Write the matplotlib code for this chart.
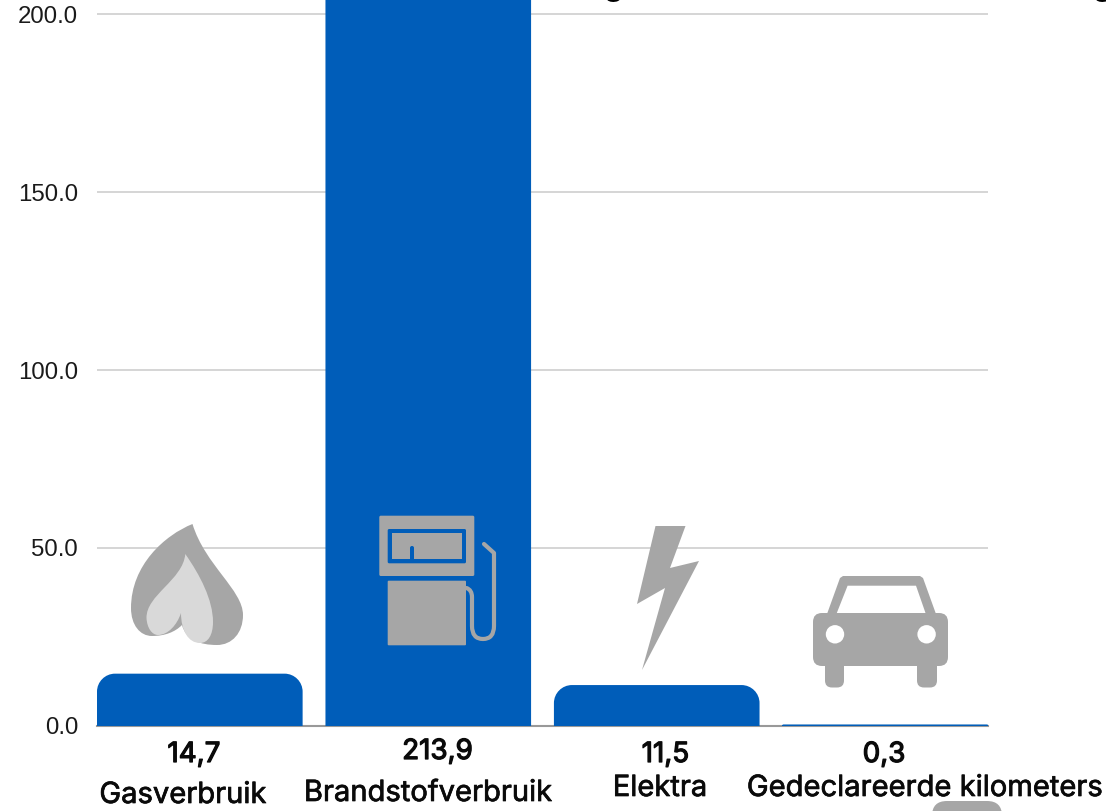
import matplotlib
matplotlib.use("Agg")
import matplotlib.pyplot as plt
import matplotlib.patheffects as pe
from matplotlib.path import Path
from matplotlib.patches import PathPatch, Polygon, Circle, FancyBboxPatch, Rectangle

categories = ["Gasverbruik", "Brandstofverbruik", "Elektra", "Gedeclareerde kilometers"]
values = [14.7, 213.9, 11.5, 0.3]
value_labels = ["14,7", "213,9", "11,5", "0,3"]
y_ticks = [0, 50, 100, 150, 200]

value_xy = [(194, 762), (437.5, 759), (665.5, 762), (884, 762)]
cat_xy = [(183, 803), (428, 801), (660, 796), (925, 796)]

W, H = 1106, 811
BLUE = "#005DB9"
GREY = "#A6A6A6"
LIGHT = "#D9D9D9"
FONT = "Inter"

fig = plt.figure(figsize=(W / 100, H / 100), dpi=100, facecolor="white")

# main axes
L, R, Y0 = 97, 988, 726
PX_PER_UNIT = 3.56
ax = fig.add_axes([L / W, 1 - Y0 / H, (R - L) / W, Y0 / H])
ax.set_xlim(-0.45, 3.45)
ax.set_ylim(0, Y0 / PX_PER_UNIT)
for s in ax.spines.values():
    s.set_visible(False)
ax.set_xticks([])
ax.set_yticks(y_ticks)
ax.set_yticklabels([f"{t:.1f}" for t in y_ticks], family="Liberation Sans", fontsize=17.3, color="#1a1a1a")
ax.tick_params(axis="y", length=0, pad=13.5)
ax.grid(axis="y", color="#D2D2D2", lw=1.3, zorder=0)
ax.set_axisbelow(True)
ax.axhline(0, color="#999999", lw=1.5, zorder=1, clip_on=False)

px_x = 3.9 / (R - L)
RAD = 18
K = 0.45
bw = 0.9
for i, v in enumerate(values):
    ry = min(RAD / PX_PER_UNIT, v)
    rx = ry * PX_PER_UNIT * px_x
    x0, x1 = i - bw / 2, i + bw / 2
    verts = [(x0, 0), (x0, v - ry), (x0, v - ry * K), (x0 + rx * K, v), (x0 + rx, v), (x1 - rx, v),
             (x1 - rx * K, v), (x1, v - ry * K), (x1, v - ry), (x1, 0), (x0, 0)]
    codes = [Path.MOVETO, Path.LINETO, Path.CURVE4, Path.CURVE4, Path.CURVE4, Path.LINETO,
             Path.CURVE4, Path.CURVE4, Path.CURVE4, Path.LINETO, Path.CLOSEPOLY]
    ax.add_patch(PathPatch(Path(verts, codes), fc=BLUE, ec=BLUE if v < 1 else "none", lw=0.6, zorder=2))

# overlay in pixel coordinates for pictograms and labels
ov = fig.add_axes([0, 0, 1, 1], facecolor="none")
ov.set_xlim(0, W)
ov.set_ylim(H, 0)
ov.axis("off")


def curve(start, segs, **kw):
    verts, codes = [start], [Path.MOVETO]
    for s in segs:
        verts += s
        codes += [Path.CURVE4] * 3
    verts.append(start)
    codes.append(Path.CLOSEPOLY)
    ov.add_patch(PathPatch(Path(verts, codes), ec="none", **kw))


def rrect(x0, y0, x1, y1, r, color, z=5):
    ov.add_patch(FancyBboxPatch((x0 + r, y0 + r), x1 - x0 - 2 * r, y1 - y0 - 2 * r,
                                boxstyle=f"round,pad={r},rounding_size={r}", fc=color, ec="none", zorder=z))


# flame
curve((192.5, 524), [
    [(165, 535), (131, 565), (131, 608)],
    [(131, 625), (140, 636), (152, 636)],
    [(165, 636), (175, 632), (182, 625)],
    [(186, 640), (200, 645), (217, 645)],
    [(232, 645), (243, 633), (243, 615)],
    [(243, 590), (205, 565), (192.5, 524)],
], fc=GREY, zorder=5)
curve((185.3, 554), [
    [(183, 580), (146, 595), (146.5, 618)],
    [(147, 628), (152, 635), (158, 635)],
    [(168, 635), (177, 625), (181, 613)],
    [(181, 630), (188, 643), (200, 643)],
    [(208, 643), (213, 635), (213, 622)],
    [(213, 600), (200, 575), (185.3, 554)],
], fc=LIGHT, zorder=6)

# fuel pump
rrect(379.3, 515.7, 474.3, 576, 1.5, GREY)
rrect(387.7, 529, 466, 563.3, 1.5, BLUE, 6)
ov.add_patch(Rectangle((392, 533), 69.7, 26, fc=GREY, ec="none", zorder=7))
rrect(410, 546, 414, 562, 1.9, BLUE, 8)
rrect(387.7, 580.7, 466, 645.3, 1, GREY)
hose_v = [(466.5, 588), (472, 590), (472, 597), (472, 626), (472, 639), (483, 639),
          (494, 639), (494, 626), (494, 553), (484, 544)]
hose_c = [Path.MOVETO, Path.CURVE3, Path.CURVE3, Path.LINETO, Path.CURVE3, Path.CURVE3,
          Path.CURVE3, Path.CURVE3, Path.LINETO, Path.LINETO]
ov.add_patch(PathPatch(Path(hose_v, hose_c), fc="none", ec=GREY, lw=3.0, capstyle="round", joinstyle="round", zorder=5))

# lightning bolt
ov.add_patch(Polygon([(655.5, 526), (685.5, 526), (670, 568), (699, 561), (642, 670), (665, 588), (637, 604)],
                     closed=True, fc=GREY, ec="none", zorder=5))

# car
rrect(813, 613, 948, 666, 9, GREY)
ov.add_patch(Polygon([(827, 614), (840, 578), (843, 576), (920, 576), (923, 578), (936, 614)],
                     closed=True, fc=GREY, ec="none", zorder=5))
ov.add_patch(Polygon([(836.8, 613), (847.6, 585.7), (916, 585.7), (925.5, 613)],
                     closed=True, fc="white", ec="none", zorder=6))
rrect(825, 650, 844, 687.5, 7, GREY)
rrect(917, 650, 937, 687.5, 7, GREY)
ov.add_patch(Circle((835, 634.3), 9.2, fc="white", ec="none", zorder=6))
ov.add_patch(Circle((926.6, 634.3), 9.2, fc="white", ec="none", zorder=6))

# cut-off pictogram at the bottom edge
rrect(932, 801, 1002, 840, 15, GREY)

# labels
for (x, y), t in zip(value_xy, value_labels):
    ov.text(x, y, t, family=FONT, fontsize=20, ha="center", va="baseline", color="#0a0a0a", zorder=9,
            path_effects=[pe.withStroke(linewidth=0.9, foreground="#0a0a0a")])
for (x, y), t in zip(cat_xy, categories):
    ov.text(x, y, t, family=FONT, fontsize=21, ha="center", va="baseline", color="#0a0a0a", zorder=9,
            path_effects=[pe.withStroke(linewidth=0.5, foreground="#0a0a0a")])

# descenders of a title cut off by the top edge
for x in (613, 1102):
    ov.text(x, -4, "g", family=FONT, fontsize=22, fontweight="bold", ha="center", va="baseline", color="black", zorder=9)

fig.savefig("out.png", dpi=100)
